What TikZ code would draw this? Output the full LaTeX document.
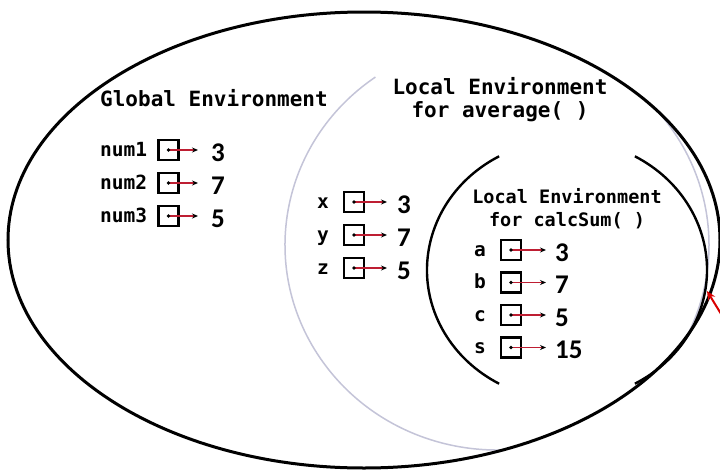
\documentclass[tikz,border=0pt]{standalone}
\usepackage{fontspec}
\usetikzlibrary{arrows.meta}
\newfontfamily\envmono{DejaVu Sans Mono}
\newfontfamily\digitfont{Carlito}
\definecolor{ptrred}{RGB}{190,30,50}
\definecolor{midgrey}{RGB}{196,196,216}
\newcommand\envvar[8]{%
  \node[lbl] (#1l) at (#2,#6+6) {#7};
  \node[varbox] (#1b) at (#3,#6) {};
  \coordinate (#1e) at (#4,#6);
  \draw[ptr] (#1b.center) -- (#1e);
  \fill (#1b.center) circle (1.8pt);
  \node[val] (#1v) at (#5,#6+11) {#8};
}
\begin{document}
\begin{tikzpicture}[x=1pt,y=-1pt,
  envline/.style={line width=3pt, black},
  innerline/.style={line width=2.4pt, black},
  midline/.style={line width=1.5pt, midgrey},
  varbox/.style={draw, line width=2.2pt, minimum width=20pt, minimum height=20pt, inner sep=0pt},
  lbl/.style={font=\envmono\bfseries\fontsize{19.5}{22}\selectfont, inner sep=0pt, anchor=base west},
  val/.style={font=\digitfont\bfseries\fontsize{27}{30}\selectfont, inner sep=0pt, anchor=base west},
  ptr/.style={draw=ptrred, line width=1.5pt, -{Stealth[black,length=6pt,width=5pt]}},
  titleA/.style={font=\envmono\bfseries\fontsize{21}{25}\selectfont, inner sep=0pt},
  titleB/.style={font=\envmono\bfseries\fontsize{18.5}{25}\selectfont, inner sep=0pt},
]
\useasboundingbox (0,0) rectangle (720,471);
\clip (0,0) rectangle (720,471);
\fill[white] (0,0) rectangle (720,471);

% middle circle (average), open at the top, kept inside the outer ellipse
\begin{scope}
  \clip (364,240) ellipse [x radius=355, y radius=227];
  \draw[midline] (497,245) ++(125:212 and -205) arc [start angle=125, end angle=416, x radius=212, y radius=-205];
\end{scope}

% outer ellipse (global environment)
\draw[envline] (364,240) ellipse [x radius=356, y radius=228];

% inner circle (calcSum), open at top and bottom
\draw[innerline] (567,270) ++(119:140 and -130) arc [start angle=119, end angle=241, x radius=140, y radius=-130];
\draw[innerline] (567,270) ++(-61:140 and -130) arc [start angle=-61, end angle=61, x radius=140, y radius=-130];

% titles
\node[titleA, anchor=base west] (gtitle) at (100,106) {Global Environment};
\node[titleA] (atitle1) at (500,86) {Local Environment};
\node[titleA] (atitle2) at (500,112) {for average( )};
\node[titleB] (ctitle1) at (567,196) {Local Environment};
\node[titleB] (ctitle2) at (567,221) {for calcSum( )};

% global variables
\envvar{n1}{100}{168.5}{198}{211}{150}{num1}{3}
\envvar{n2}{100}{168.5}{198}{211}{183}{num2}{7}
\envvar{n3}{100}{168.5}{198}{211}{216}{num3}{5}

% average variables
\envvar{vx}{317}{354}{387}{397}{202}{x}{3}
\envvar{vy}{317}{354}{387}{397}{235}{y}{7}
\envvar{vz}{317}{354}{387}{397}{268}{z}{5}

% calcSum variables
\envvar{va}{474}{511}{546}{555}{250}{a}{3}
\envvar{vb}{474}{511}{546}{555}{282.5}{b}{7}
\envvar{vc}{474}{511}{546}{555}{315}{c}{5}
\envvar{vs}{474}{511}{546}{555}{347.5}{s}{15}

% red pointer entering from the right edge
\coordinate (redstart) at (726,322);
\coordinate (redend) at (707,291);
\draw[draw=red!85!black, line width=2pt, -{Stealth[length=9pt,width=8pt]}] (redstart) -- (redend);
\end{tikzpicture}
\end{document}
